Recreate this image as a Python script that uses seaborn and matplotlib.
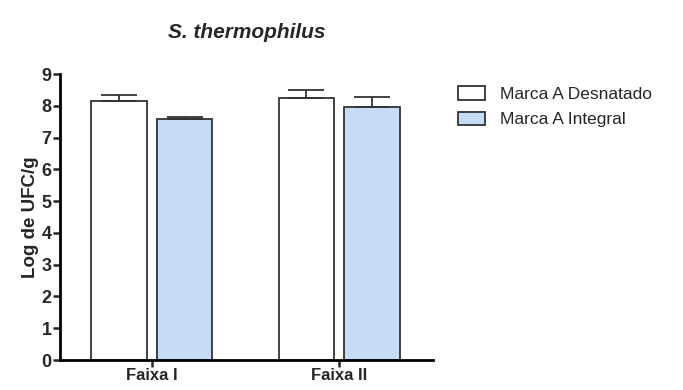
import pandas as pd
import seaborn as sns
import matplotlib.pyplot as plt

# values
faixas = ["Faixa I", "Faixa II"]
marcas = ["Marca A Desnatado", "Marca A Integral"]
desnatado = [8.15, 8.24]
integral = [7.60, 7.95]
desnatado_err = [0.20, 0.27]
integral_err = [0.04, 0.32]

df = pd.DataFrame({
    "faixa": faixas * 2,
    "marca": [marcas[0]] * 2 + [marcas[1]] * 2,
    "log": desnatado + integral,
})
errs = desnatado_err + integral_err

sns.set_style("ticks")
plt.rcParams["font.family"] = ["Liberation Sans", "DejaVu Sans"]

fig = plt.figure(figsize=(6.83, 3.9), dpi=100)
ax = fig.add_axes([0.0878, 0.0769, 0.546, 0.733])

sns.barplot(data=df, x="faixa", y="log", hue="marca", hue_order=marcas,
            palette=["white", "#C6DBF5"], saturation=1, edgecolor="#333333",
            linewidth=1.3, width=0.7, gap=0.16, errorbar=None, ax=ax)

# upper error bars only
for bar, e in zip(ax.patches[:4], errs):
    x = bar.get_x() + bar.get_width() / 2
    y = bar.get_height()
    ax.errorbar(x, y, yerr=[[0], [e]], fmt="none", ecolor="#333333",
                elinewidth=1.3, capsize=13, capthick=1.3)

ax.set_ylim(0, 9)
ax.set_xlim(-0.49, 1.5)
ax.set_yticks(range(10))
ax.set_xlabel("")
ax.set_ylabel("Log de UFC/g", fontsize=13.5, fontweight="bold", labelpad=2)
ax.set_title("S. thermophilus", fontsize=15, fontweight="bold", style="italic", pad=26)
for lab in ax.get_yticklabels():
    lab.set_fontweight("bold")
    lab.set_fontsize(13)
for lab in ax.get_xticklabels():
    lab.set_fontweight("bold")
    lab.set_fontsize(12)
ax.tick_params(axis="both", width=1.8, length=5, pad=1)
for s in ["left", "bottom"]:
    ax.spines[s].set_linewidth(2)
    ax.spines[s].set_color("black")
sns.despine(ax=ax)

leg = ax.legend(loc="upper left", bbox_to_anchor=(1.025, 1.012), frameon=False,
                fontsize=12.5, handlelength=1.55, handleheight=0.8, labelspacing=0.55,
                handletextpad=0.85)

fig.savefig("out.png", dpi=100)
